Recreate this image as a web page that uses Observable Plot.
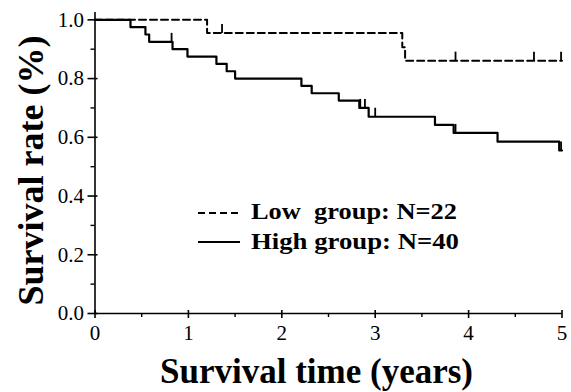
<!DOCTYPE html>
<html>
<head>
<meta charset="utf-8">
<script src="https://cdn.jsdelivr.net/npm/d3@7"></script>
<script src="https://cdn.jsdelivr.net/npm/@observablehq/plot@0.6"></script>
<style>
  html, body { margin: 0; padding: 0; background: #fff; }
  #wrap { position: relative; width: 571px; height: 392px; }
  #legend { position: absolute; left: 0; top: 0; pointer-events: none; }
</style>
</head>
<body>
<div id="wrap"></div>
<script>
// ---- data ----
const lowTime  = [0, 1.20, 3.29, 3.32, 5.00];
const lowSurv  = [1.0, 0.955, 0.907, 0.861, 0.861];
const lowCensor = [1.36, 3.86, 4.70, 4.99];

const highTime = [0, 0.38, 0.54, 0.58, 0.83, 0.99, 1.30, 1.41, 1.50, 2.21, 2.32, 2.61, 2.83, 2.93, 3.64, 3.84, 4.31, 4.97, 5.00];
const highSurv = [1.0, 0.975, 0.95, 0.925, 0.90, 0.875, 0.85, 0.825, 0.80, 0.775, 0.75, 0.725, 0.70, 0.67, 0.642, 0.615, 0.585, 0.555, 0.555];
const highCensor = [0.82, 2.84, 2.89, 3.00, 3.86, 4.99];

const xMajor = [0, 1, 2, 3, 4, 5];
const xMinor = [0.5, 1.5, 2.5, 3.5, 4.5];
const yMajor = [0, 0.2, 0.4, 0.6, 0.8, 1.0];
const yMinor = [0.1, 0.3, 0.5, 0.7, 0.9];

const xTitle = "Survival time (years)";
const yTitle = "Survival rate (%)";
const legendLabels = ["Low  group: N=22", "High group: N=40"];

// ---- build tables ----
const lowData = lowTime.map((t, i) => ({t, s: lowSurv[i]}));
const highData = highTime.map((t, i) => ({t, s: highSurv[i]}));
function survAt(times, surv, t) {
  let s = surv[0];
  for (let i = 0; i < times.length; i++) if (times[i] <= t) s = surv[i];
  return s;
}
const lowCens = lowCensor.map(t => ({t, s: survAt(lowTime, lowSurv, t)}));
const highCens = highCensor.map(t => ({t, s: survAt(highTime, highSurv, t)}));

const censorSymbol = {
  draw(context, size) {
    const h = Math.sqrt(size / Math.PI);
    context.moveTo(0, 0);
    context.lineTo(0, -h);
  }
};

const serif = "'Liberation Serif', 'Times New Roman', serif";

const chart = Plot.plot({
  width: 571,
  height: 392,
  marginLeft: 94.5,
  marginRight: 9.5,
  marginTop: 12,
  marginBottom: 79,
  style: {fontFamily: serif, fontSize: "21px", color: "#000", background: "#fff"},
  x: {domain: [0, 5]},
  y: {domain: [0, 1.025]},
  marks: [
    // axis lines
    Plot.ruleY([0], {stroke: "#000", strokeWidth: 1.6}),
    Plot.ruleX([0], {stroke: "#000", strokeWidth: 1.6}),
    // x axis: major ticks (out + in), minor ticks, labels
    Plot.axisX({ticks: xMajor, tickSize: 5, tickPadding: 7, tickFormat: d3.format("d"), fontSize: 21, label: null, strokeWidth: 1.6}),
    Plot.axisX({ticks: xMajor, tickSize: -3, text: null, label: null, strokeWidth: 1.6}),
    Plot.axisX({ticks: xMinor, tickSize: 4, text: null, label: null, strokeWidth: 1.4}),
    // y axis
    Plot.axisY({ticks: yMajor, tickSize: 7, tickPadding: 4, tickFormat: d3.format(".1f"), fontSize: 21, label: null, strokeWidth: 1.6}),
    Plot.axisY({ticks: yMajor, tickSize: -3, text: null, label: null, strokeWidth: 1.6}),
    Plot.axisY({ticks: yMinor, tickSize: 4, text: null, label: null, strokeWidth: 1.4}),
    // curves
    Plot.line(lowData, {x: "t", y: "s", curve: "step-after", stroke: "#000", strokeWidth: 2, strokeDasharray: "7,4"}),
    Plot.line(highData, {x: "t", y: "s", curve: "step-after", stroke: "#000", strokeWidth: 2.2}),
    // censor marks
    Plot.dot(lowCens, {x: "t", y: "s", symbol: censorSymbol, r: 9, stroke: "#000", strokeWidth: 1.8, fill: "none"}),
    Plot.dot(highCens, {x: "t", y: "s", symbol: censorSymbol, r: 9, stroke: "#000", strokeWidth: 1.8, fill: "none"}),
    // titles
    Plot.text([xTitle], {text: d => d, frameAnchor: "bottom", textAnchor: "middle", lineAnchor: "middle", dx: -12, dy: 58, fontSize: 35, fontWeight: "bold", fill: "#000"}),
    Plot.text([yTitle], {text: d => d, frameAnchor: "left", textAnchor: "middle", lineAnchor: "middle", rotate: -90, dx: -64, dy: 7.5, fontSize: 36, fontWeight: "bold", fill: "#000"})
  ]
});

const wrap = document.getElementById("wrap");
wrap.appendChild(chart);

// legend overlay
const ns = "http://www.w3.org/2000/svg";
const leg = document.createElementNS(ns, "svg");
leg.setAttribute("id", "legend");
leg.setAttribute("width", 571);
leg.setAttribute("height", 392);
const rows = [
  {label: legendLabels[0], dash: "7,4", ly: 213, ty: 219, len: 206},
  {label: legendLabels[1], dash: null, ly: 242, ty: 248.5, len: 208}
];
rows.forEach(r => {
  const ln = document.createElementNS(ns, "line");
  ln.setAttribute("x1", 198); ln.setAttribute("x2", 240);
  ln.setAttribute("y1", r.ly); ln.setAttribute("y2", r.ly);
  ln.setAttribute("stroke", "#000"); ln.setAttribute("stroke-width", 2.2);
  if (r.dash) ln.setAttribute("stroke-dasharray", r.dash);
  leg.appendChild(ln);
  const tx = document.createElementNS(ns, "text");
  tx.setAttribute("x", 251); tx.setAttribute("y", r.ty);
  tx.setAttribute("font-family", serif);
  tx.setAttribute("font-size", 24);
  tx.setAttribute("font-weight", "bold");
  tx.setAttribute("textLength", r.len);
  tx.setAttribute("lengthAdjust", "spacingAndGlyphs");
  tx.style.whiteSpace = "pre";
  tx.textContent = r.label;
  leg.appendChild(tx);
});
wrap.appendChild(leg);
</script>
</body>
</html>
